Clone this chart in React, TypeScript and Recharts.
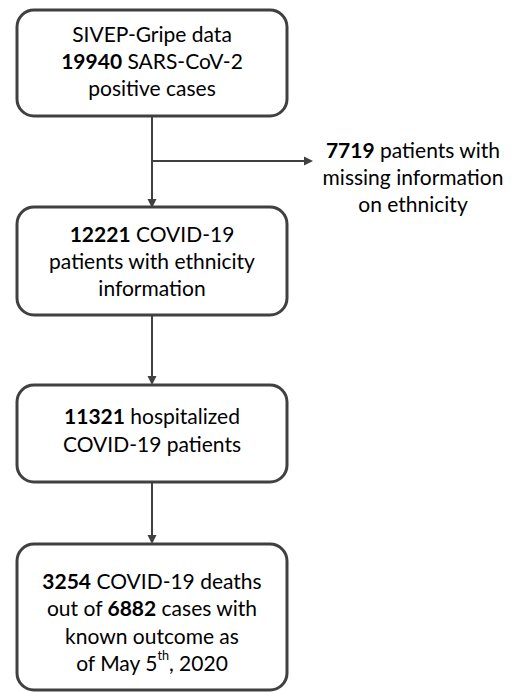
import React from "react";
import { ComposedChart, XAxis, YAxis, Scatter, ReferenceLine } from "recharts";

// ---- data ----
const stepCounts = [19940, 12221, 11321, 3254];
const excludedCount = 7719;
const outcomeCases = 6882;
const outcomeDate = ["May 5", "th", ", 2020"];

type Seg = { t: string; b?: boolean; sup?: boolean };
const boxLines: Seg[][][] = [
  [
    [{ t: "SIVEP-Gripe data" }],
    [{ t: String(stepCounts[0]), b: true }, { t: " SARS-CoV-2" }],
    [{ t: "positive cases" }],
  ],
  [
    [{ t: String(stepCounts[1]), b: true }, { t: " COVID-19" }],
    [{ t: "patients with ethnicity" }],
    [{ t: "information" }],
  ],
  [
    [{ t: String(stepCounts[2]), b: true }, { t: " hospitalized" }],
    [{ t: "COVID-19 patients" }],
  ],
  [
    [{ t: String(stepCounts[3]), b: true }, { t: " COVID-19 deaths" }],
    [{ t: "out of " }, { t: String(outcomeCases), b: true }, { t: " cases with" }],
    [{ t: "known outcome as" }],
    [{ t: "of " + outcomeDate[0] }, { t: outcomeDate[1], sup: true }, { t: outcomeDate[2] }],
  ],
];
const excludedLines: Seg[][] = [
  [{ t: String(excludedCount), b: true }, { t: " patients with" }],
  [{ t: "missing information" }],
  [{ t: "on ethnicity" }],
];

// ---- layout (chart units = pixels) ----
const boxLayout = [
  { x: 152, y: 63, w: 270, h: 106, ty: 60 },
  { x: 152, y: 261, w: 270, h: 108, ty: 260 },
  { x: 152, y: 433.5, w: 270, h: 97, ty: 429 },
  { x: 152, y: 617, w: 270, h: 146, ty: 621 },
];
const excludedLayout = { x: 413, ty: 176 };
const LINE = 27.3;
const COLOR = "#404040";
const FONT = "Lato, 'Open Sans', sans-serif";
const FS = 21;

const arrows = [
  { x1: 152, y1: 116, x2: 152, y2: 208 },
  { x1: 152, y1: 161, x2: 313, y2: 161 },
  { x1: 152, y1: 315, x2: 152, y2: 385 },
  { x1: 152, y1: 482, x2: 152, y2: 544 },
];

function renderLine(segs: Seg[], key: number, x: number, y: number) {
  return (
    <text key={key} x={x} y={y} textAnchor="middle" dominantBaseline="central" fontFamily={FONT} fontSize={FS} fill="#000">
      {segs.map((s, i) =>
        s.sup ? (
          <tspan key={i} fontSize={FS * 0.6} dy={-7}>{s.t}</tspan>
        ) : (
          <tspan key={i} fontWeight={s.b ? 700 : 400} dy={i > 0 && segs[i - 1].sup ? 7 : 0}>{s.t}</tspan>
        )
      )}
    </text>
  );
}

function TextBlock({ lines, x, y }: { lines: Seg[][]; x: number; y: number }) {
  const n = lines.length;
  return <g>{lines.map((l, i) => renderLine(l, i, x, y + (i - (n - 1) / 2) * LINE))}</g>;
}

const BoxShape = (props: any) => {
  const { cx, cy, payload } = props;
  const i = payload.idx;
  const L = boxLayout[i];
  return (
    <g>
      <rect x={cx - L.w / 2} y={cy - L.h / 2} width={L.w} height={L.h} rx={17} ry={17} fill="#fff" stroke={COLOR} strokeWidth={3} />
      <TextBlock lines={boxLines[i]} x={cx} y={cy - L.y + L.ty} />
    </g>
  );
};

const ExcludedShape = (props: any) => {
  const { cx, cy } = props;
  return <TextBlock lines={excludedLines} x={cx} y={cy} />;
};

const ArrowShape = (props: any) => {
  const { x1, y1, x2, y2 } = props;
  const dx = x2 - x1, dy = y2 - y1;
  const len = Math.sqrt(dx * dx + dy * dy) || 1;
  const ux = dx / len, uy = dy / len;
  const hl = 9, hw = 4.5;
  const bx = x2 - ux * hl, by = y2 - uy * hl;
  const pts = `${x2},${y2} ${bx - uy * hw},${by + ux * hw} ${bx + uy * hw},${by - ux * hw}`;
  return (
    <g>
      <line x1={x1} y1={y1} x2={bx} y2={by} stroke={COLOR} strokeWidth={2} />
      <polygon points={pts} fill={COLOR} />
    </g>
  );
};

const boxData = boxLayout.map((b, idx) => ({ x: b.x, y: b.y, idx }));
const excludedData = [{ x: excludedLayout.x, y: excludedLayout.ty }];

export default function App() {
  return (
    <div style={{ position: "absolute", left: 0, top: 0, background: "#fff" }}>
      <ComposedChart width={522} height={692} margin={{ top: 0, right: 0, bottom: 0, left: 0 }}>
        <XAxis type="number" dataKey="x" domain={[0, 522]} hide allowDataOverflow />
        <YAxis type="number" dataKey="y" domain={[0, 692]} reversed hide allowDataOverflow />
        {arrows.map((a, i) => (
          <ReferenceLine
            key={i}
            segment={[{ x: a.x1, y: a.y1 }, { x: a.x2, y: a.y2 }]}
            ifOverflow="visible"
            shape={ArrowShape}
          />
        ))}
        <Scatter data={boxData} shape={BoxShape} isAnimationActive={false} />
        <Scatter data={excludedData} shape={ExcludedShape} isAnimationActive={false} />
      </ComposedChart>
    </div>
  );
}
